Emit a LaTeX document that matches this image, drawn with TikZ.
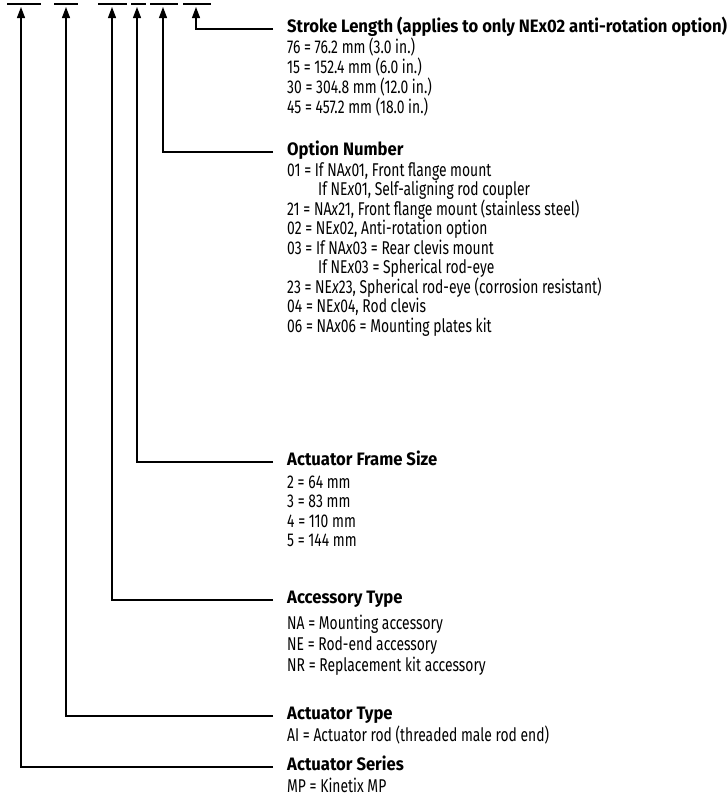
\documentclass[tikz,border=0pt]{standalone}
\usepackage{fontspec}
\setmainfont{Fira Sans}[FakeStretch=0.75,BoldFeatures={FakeStretch=0.925}]
\usetikzlibrary{arrows.meta}
\begin{document}
\begin{tikzpicture}[x=1pt,y=-1pt,
  bar/.style={line width=1.3pt},
  lead/.style={line width=1.2pt,-{Triangle[length=11pt,width=8pt]}},
  head/.style={anchor=base west,inner sep=0pt,font=\bfseries\fontsize{18}{21}\selectfont},
  item/.style={anchor=base west,inner sep=0pt,font=\fontsize{18.5}{21}\selectfont}]
\useasboundingbox (0,0) rectangle (726,809);
% top bars
\draw[bar] (7,4) -- (41,4);
\draw[bar] (54,4) -- (78,4);
\draw[bar] (98,4) -- (127,4);
\draw[bar] (131,4) -- (146,4);
\draw[bar] (150,4) -- (178,4);
\draw[bar] (183,4) -- (211,4);
% arrow targets
\coordinate (tSer) at (21,7);
\coordinate (tTyp) at (66,7);
\coordinate (tAcc) at (112,7);
\coordinate (tFrm) at (137,7);
\coordinate (tOpt) at (163,7);
\coordinate (tStk) at (196,7);
% Stroke length
\node[head] (hStk) at (287,32) {Stroke Length (applies to only NEx02 anti-rotation option)};
\node[item] (s1) at (287,53) {76 = 76.2 mm (3.0 in.)};
\node[item] (s2) at (287,73) {15 = 152.4 mm (6.0 in.)};
\node[item] (s3) at (287,93) {30 = 304.8 mm (12.0 in.)};
\node[item] (s4) at (287,113) {45 = 457.2 mm (18.0 in.)};
% Option number
\node[head] (hOpt) at (287,155) {Option Number};
\node[item] (o1) at (287,176) {01 = If NA\textit{x}01, Front flange mount};
\node[item] (o2) at (318,195.5) {If NE\textit{x}01, Self-aligning rod coupler};
\node[item] (o3) at (287,215) {21 = NA\textit{x}21, Front flange mount (stainless steel)};
\node[item] (o4) at (287,234.5) {02 = NE\textit{x}02, Anti-rotation option};
\node[item] (o5) at (287,254) {03 = If NA\textit{x}03 = Rear clevis mount};
\node[item] (o6) at (318,273.5) {If NE\textit{x}03 = Spherical rod-eye};
\node[item] (o7) at (287,293) {23 = NE\textit{x}23, Spherical rod-eye (corrosion resistant)};
\node[item] (o8) at (287,312.5) {04 = NE\textit{x}04, Rod clevis};
\node[item] (o9) at (287,332) {06 = NA\textit{x}06 = Mounting plates kit};
% Frame size
\node[head] (hFrm) at (287,465) {Actuator Frame Size};
\node[item] (f1) at (287,488) {2 = 64 mm};
\node[item] (f2) at (287,507.5) {3 = 83 mm};
\node[item] (f3) at (287,527) {4 = 110 mm};
\node[item] (f4) at (287,546.5) {5 = 144 mm};
% Accessory type
\node[head] (hAcc) at (287,603) {Accessory Type};
\node[item] (a1) at (287,629) {NA = Mounting accessory};
\node[item] (a2) at (287,650) {NE = Rod-end accessory};
\node[item] (a3) at (287,671) {NR = Replacement kit accessory};
% Actuator type
\node[head] (hTyp) at (287,719) {Actuator Type};
\node[item] (y1) at (287,741) {AI = Actuator rod (threaded male rod end)};
% Actuator series
\node[head] (hSer) at (287,770) {Actuator Series};
\node[item] (m1) at (287,792) {MP = Kinetix MP};
% leaders
\draw[lead] ([xshift=-14pt,yshift=3pt]hStk.base west) -| (tStk);
\draw[lead] ([xshift=-14pt,yshift=3pt]hOpt.base west) -| (tOpt);
\draw[lead] ([xshift=-14pt,yshift=3pt]hFrm.base west) -| (tFrm);
\draw[lead] ([xshift=-14pt,yshift=3pt]hAcc.base west) -| (tAcc);
\draw[lead] ([xshift=-14pt,yshift=3pt]hTyp.base west) -| (tTyp);
\draw[lead] ([xshift=-14pt,yshift=3pt]hSer.base west) -| (tSer);
\end{tikzpicture}
\end{document}
